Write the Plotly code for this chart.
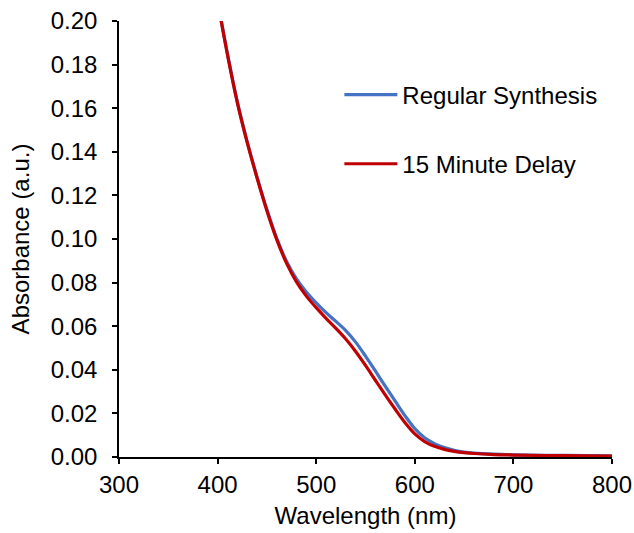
import plotly.graph_objects as go

wavelength = [400, 410, 420, 430, 440, 450, 460, 470, 480, 490, 500, 510, 520, 530, 540,
              550, 560, 570, 580, 590, 600, 610, 620, 630, 640, 650, 660, 680, 700, 750, 800]
regular = [0.2095, 0.1850, 0.1630, 0.1447, 0.1285, 0.1135, 0.1003, 0.0897, 0.0817, 0.0757, 0.0707,
           0.0662, 0.0622, 0.0580, 0.0527, 0.0463, 0.0395, 0.0325, 0.0257, 0.0190, 0.0130,
           0.0088, 0.0061, 0.0043, 0.0031, 0.0023, 0.0018, 0.0013, 0.0010, 0.0007, 0.0005]
delay15 = [0.2090, 0.1846, 0.1626, 0.1443, 0.1280, 0.1130, 0.0997, 0.0888, 0.0803, 0.0738, 0.0685,
           0.0636, 0.0590, 0.0541, 0.0484, 0.0420, 0.0352, 0.0285, 0.0220, 0.0158, 0.0106,
           0.0071, 0.0049, 0.0035, 0.0026, 0.0020, 0.0016, 0.0011, 0.0009, 0.0006, 0.0004]

font = "Liberation Sans, Arial, sans-serif"

fig = go.Figure()
fig.add_trace(go.Scatter(x=wavelength, y=regular, mode="lines", name="Regular Synthesis",
                         line=dict(color="#4472C4", width=3.2, shape="spline", smoothing=1.0),
                         legendgroup="a"))
fig.add_trace(go.Scatter(x=wavelength, y=delay15, mode="lines", name="15 Minute Delay",
                         line=dict(color="#C00000", width=3.2, shape="spline", smoothing=1.0),
                         legendgroup="b"))

fig.update_layout(
    width=634, height=533,
    margin=dict(l=119, r=22, t=21, b=76),
    paper_bgcolor="white", plot_bgcolor="white",
    font=dict(family=font, size=24, color="black"),
    legend=dict(x=0.447, y=0.882, xanchor="left", yanchor="top",
                bgcolor="rgba(0,0,0,0)", tracegroupgap=35, traceorder="grouped",
                itemwidth=53, font=dict(size=24)),
    xaxis=dict(range=[300, 800], dtick=100, tick0=300, showgrid=False, zeroline=False,
               showline=True, linecolor="black", linewidth=1.5, automargin=False,
               ticks="outside", ticklen=5, tickwidth=1.5, tickcolor="black",
               title=dict(text="Wavelength (nm)", standoff=11, font=dict(size=24)),
               tickfont=dict(size=24)),
    yaxis=dict(range=[0, 0.2], dtick=0.02, tick0=0, tickformat=".2f", showgrid=False,
               zeroline=False, showline=True, linecolor="black", linewidth=1.5,
               automargin=False,
               ticks="outside", ticklen=5, tickwidth=1.5, tickcolor="black",
               ticklabelstandoff=10,
               title=dict(text="Absorbance (a.u.)", standoff=14, font=dict(size=24)),
               tickfont=dict(size=24)),
)

fig.write_html("out.html")
